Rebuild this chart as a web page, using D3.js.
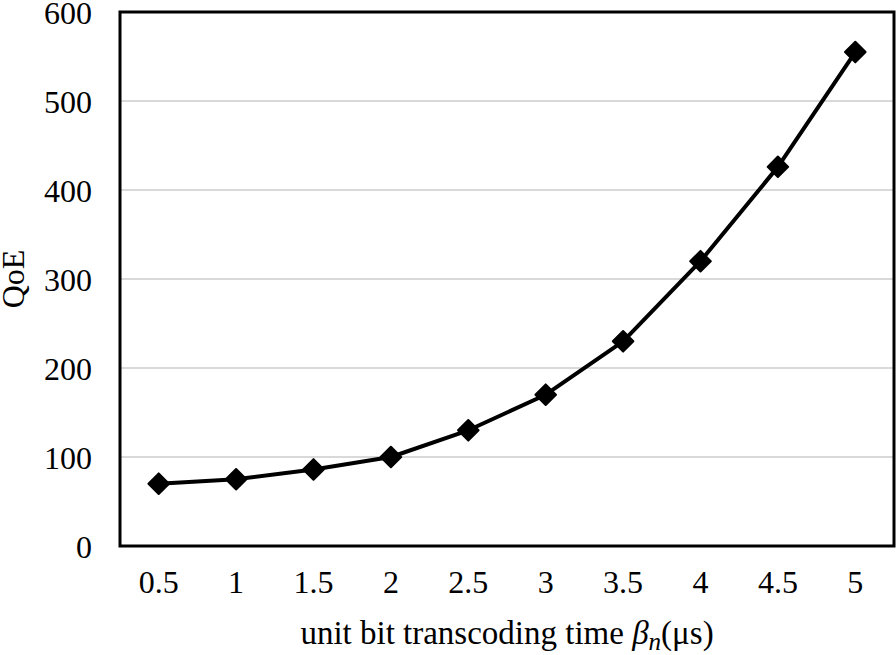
<!DOCTYPE html>
<html>
<head>
<meta charset="utf-8">
<script src="https://cdn.jsdelivr.net/npm/d3@7"></script>
<style>
  body { margin: 0; background: #fff; }
  text { font-family: "Liberation Serif", "Times New Roman", serif; fill: #000; }
</style>
</head>
<body>
<div id="chart"></div>
<script>
// categories along x, QoE values
var betaValues = ['0.5', '1', '1.5', '2', '2.5', '3', '3.5', '4', '4.5', '5'];
var qoeValues = [70, 75, 86, 100, 130, 170, 230, 320, 426, 555];
var yTicks = [0, 100, 200, 300, 400, 500, 600];

var w = 896;
var h = 655;
var margin = {top: 12, right: 2, bottom: 109, left: 120};
var pw = w - margin.left - margin.right;
var ph = h - margin.top - margin.bottom;

var svg = d3.select('#chart').append('svg')
  .attr('width', w)
  .attr('height', h);

var g = svg.append('g')
  .attr('transform', 'translate(' + margin.left + ',' + margin.top + ')');

var x = d3.scaleBand().domain(betaValues).range([0, pw]);
var y = d3.scaleLinear().domain([0, 600]).range([ph, 0]);

// gridlines
g.append('g').selectAll('line')
  .data(yTicks.filter(function(d) { return d > 0 && d < 600; }))
  .enter().append('line')
  .attr('x1', 0).attr('x2', pw)
  .attr('y1', function(d) { return y(d); })
  .attr('y2', function(d) { return y(d); })
  .attr('stroke', '#d9d9d9')
  .attr('stroke-width', 2);

// frame
g.append('rect')
  .attr('width', pw).attr('height', ph)
  .attr('fill', 'none')
  .attr('stroke', '#000')
  .attr('stroke-width', 3);

// axes (labels only, frame draws the lines)
var yAxis = g.append('g')
  .call(d3.axisLeft(y).tickValues(yTicks).tickSize(0).tickPadding(28));
yAxis.select('.domain').remove();
yAxis.selectAll('text')
  .style('font-size', '32px')
  .style('font-family', '"Liberation Serif", serif')
  .attr('dy', '0.36em');

var xAxis = g.append('g')
  .attr('transform', 'translate(0,' + ph + ')')
  .call(d3.axisBottom(x).tickSize(0).tickPadding(24));
xAxis.select('.domain').remove();
xAxis.selectAll('text')
  .style('font-size', '32px')
  .style('font-family', '"Liberation Serif", serif');

// line
var line = d3.line()
  .x(function(d, i) { return x(betaValues[i]) + x.bandwidth() / 2; })
  .y(function(d) { return y(d); });

g.append('path')
  .datum(qoeValues)
  .attr('d', line)
  .attr('fill', 'none')
  .attr('stroke', '#000')
  .attr('stroke-width', 4)
  .attr('stroke-linejoin', 'round');

// diamond markers
g.append('g').selectAll('path')
  .data(qoeValues)
  .enter().append('path')
  .attr('d', d3.symbol().type(d3.symbolDiamond2).size(270))
  .attr('transform', function(d, i) {
    return 'translate(' + (x(betaValues[i]) + x.bandwidth() / 2) + ',' + y(d) + ')';
  })
  .attr('fill', '#000')
  .attr('stroke', '#000')
  .attr('stroke-width', 2)
  .attr('stroke-linejoin', 'round');

// axis titles
svg.append('text')
  .attr('transform', 'translate(24,' + (margin.top + ph / 2) + ') rotate(-90)')
  .attr('text-anchor', 'middle')
  .style('font-size', '32px')
  .text('QoE');

var xt = svg.append('text')
  .attr('x', margin.left + pw / 2)
  .attr('y', 644)
  .attr('text-anchor', 'middle')
  .style('font-size', '33px');
xt.append('tspan').text('unit bit transcoding time ');
xt.append('tspan').style('font-style', 'italic').text('β');
xt.append('tspan').style('font-style', 'italic').style('font-size', '25px')
  .attr('dy', 6).text('n');
xt.append('tspan').attr('dy', -6).text('(μs)');
</script>
</body>
</html>
